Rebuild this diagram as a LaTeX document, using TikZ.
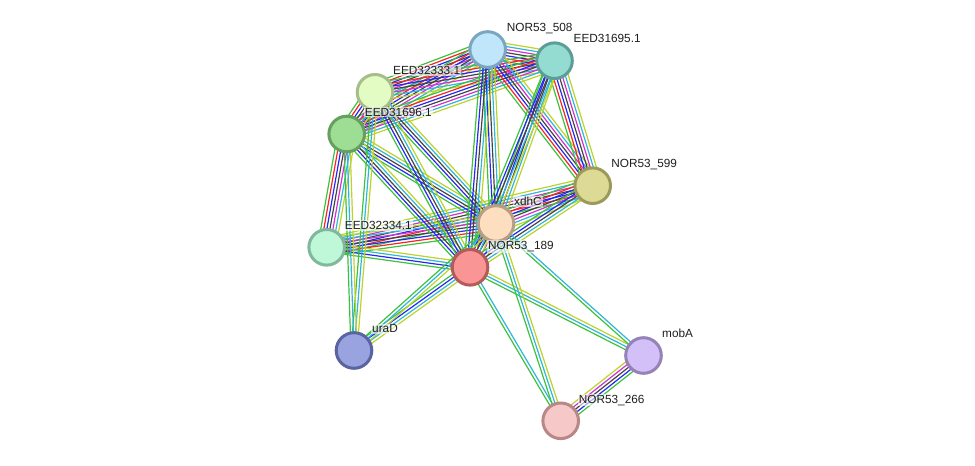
\documentclass[tikz,border=0pt]{standalone}
\usepackage{fontspec}
\setmainfont{Liberation Sans}
\usetikzlibrary{calc}
\pgfdeclarelayer{bg}
\pgfsetlayers{bg,main}
\definecolor{cg}{HTML}{3CC23C}
\definecolor{cr}{HTML}{F52525}
\definecolor{cb}{HTML}{2626F5}
\definecolor{ck}{HTML}{444444}
\definecolor{cm}{HTML}{D230D2}
\definecolor{cc}{HTML}{2FB6D8}
\definecolor{cy}{HTML}{BCD32C}
\tikzset{
  prot/.style={circle,line width=3pt,minimum size=35.6pt,inner sep=0pt,outer sep=0pt},
  lbl/.style={inner xsep=1pt,inner ysep=1pt,anchor=base west,fill=white,fill opacity=0.6,text opacity=1,
    font=\fontsize{11.8}{14}\selectfont,text=black!88},
  ln/.style={line width=1.2pt}
}
\newcommand\bundle[3]{%
  \foreach \bcol [count=\nn] in {#3}{\xdef\bundlen{\nn}}%
  \foreach \bcol [count=\ii] in {#3}{%
    \pgfmathsetmacro\off{(\ii-(\bundlen+1)/2)*3.0}%
    \draw[ln,color=\bcol] ($(#1.center)!\off pt!90:(#2.center)$) -- ($(#2.center)!\off pt!-90:(#1.center)$);
  }}
\begin{document}
\begin{tikzpicture}[x=1pt,y=-1pt]
\useasboundingbox (0,0) rectangle (975,466);
% nodes
\node[prot,fill={rgb,255:red,192;green,230;blue,251},draw={rgb,255:red,122;green,166;blue,192}] (A) at (487.7,49.5) {};
\node[prot,fill={rgb,255:red,148;green,219;blue,210},draw={rgb,255:red,90;green,158;blue,151}] (B) at (554.5,60.7) {};
\node[prot,fill={rgb,255:red,226;green,252;blue,195},draw={rgb,255:red,165;green,190;blue,138}] (C) at (375,92.3) {};
\node[prot,fill={rgb,255:red,158;green,221;blue,148},draw={rgb,255:red,102;green,160;blue,94}] (D) at (346.7,134) {};
\node[prot,fill={rgb,255:red,220;green,218;blue,149},draw={rgb,255:red,156;green,154;blue,90}] (E) at (592.7,185.7) {};
\node[prot,fill={rgb,255:red,253;green,223;blue,192},draw={rgb,255:red,184;green,158;blue,133}] (F) at (496,223.5) {};
\node[prot,fill={rgb,255:red,190;green,248;blue,217},draw={rgb,255:red,127;green,184;blue,154}] (G) at (326.7,247.3) {};
\node[prot,fill={rgb,255:red,249;green,149;blue,149},draw={rgb,255:red,181;green,90;blue,90}] (H) at (470,267.3) {};
\node[prot,fill={rgb,255:red,152;green,163;blue,223},draw={rgb,255:red,90;green,100;blue,160}] (I) at (354,350.5) {};
\node[prot,fill={rgb,255:red,212;green,192;blue,249},draw={rgb,255:red,149;green,131;blue,184}] (J) at (643.5,355.5) {};
\node[prot,fill={rgb,255:red,246;green,200;blue,200},draw={rgb,255:red,184;green,136;blue,136}] (K) at (560.7,420.8) {};
% edges
\begin{pgfonlayer}{bg}
\bundle{A}{B}{cg,cr,cb,ck,cm,cc,cy}
\bundle{A}{C}{cg,cr,cb,ck,cm,cc,cy}
\bundle{A}{D}{cg,cr,cb,ck,cm,cc,cy}
\bundle{B}{C}{cg,cr,cb,ck,cm,cc,cy}
\bundle{B}{D}{cg,cr,cb,ck,cm,cc,cy}
\bundle{C}{D}{cg,cr,cb,ck,cm,cc,cy}
\bundle{A}{E}{cg,cr,cb,ck,cm,cc,cy}
\bundle{B}{E}{cg,cr,cb,ck,cm,cc,cy}
\bundle{D}{G}{cg,cr,cb,ck,cm,cc,cy}
\bundle{G}{E}{cg,cr,cb,ck,cm,cc,cy}
\bundle{G}{F}{cg,cr,cb,ck,cm,cc,cy}
\bundle{E}{F}{cg,cr,cb,ck,cm,cc,cy}
\bundle{F}{H}{cg,cr,cb,ck,cm,cc,cy}
\bundle{D}{F}{cg,cb,ck,cc,cy}
\bundle{D}{H}{cg,cb,ck,cc,cy}
\bundle{C}{F}{cg,cb,ck,cc,cy}
\bundle{C}{H}{cg,cb,ck,cc,cy}
\bundle{A}{F}{cg,cb,ck,cc,cy}
\bundle{A}{H}{cg,cb,ck,cc,cy}
\bundle{B}{F}{cg,cb,ck,cc,cy}
\bundle{B}{H}{cg,cb,ck,cc,cy}
\bundle{E}{H}{cg,cb,ck,cc,cy}
\bundle{G}{H}{cg,cb,cc,cy}
\bundle{C}{I}{cg,cc,cy}
\bundle{D}{I}{cg,cc,cy}
\bundle{H}{I}{cg,cb,cc,cy}
\bundle{F}{I}{cg,cc,cy}
\bundle{H}{J}{cg,cc,cy}
\bundle{F}{J}{cg,cc}
\bundle{H}{K}{cg,cc}
\bundle{F}{K}{cg,cc,cy}
\bundle{K}{J}{cg,cb,ck,cm,cy}
\end{pgfonlayer}
% labels
\node[lbl] (Al) at ($(A.center)+(18,-17.8)$) {NOR53\_508};
\node[lbl] (Bl) at ($(B.center)+(18,-17.8)$) {EED31695.1};
\node[lbl] (Cl) at ($(C.center)+(17,-17.8)$) {EED32333.1};
\node[lbl] (Dl) at ($(D.center)+(17,-17.8)$) {EED31696.1};
\node[lbl] (El) at ($(E.center)+(17.5,-17.8)$) {NOR53\_599};
\node[lbl] (Fl) at ($(F.center)+(17,-17.8)$) {xdhC};
\node[lbl] (Gl) at ($(G.center)+(17,-17.8)$) {EED32334.1};
\node[lbl] (Hl) at ($(H.center)+(17,-17.8)$) {NOR53\_189};
\node[lbl] (Il) at ($(I.center)+(17,-17.8)$) {uraD};
\node[lbl] (Jl) at ($(J.center)+(17.5,-17.8)$) {mobA};
\node[lbl] (Kl) at ($(K.center)+(17,-17.8)$) {NOR53\_266};
\end{tikzpicture}
\end{document}
